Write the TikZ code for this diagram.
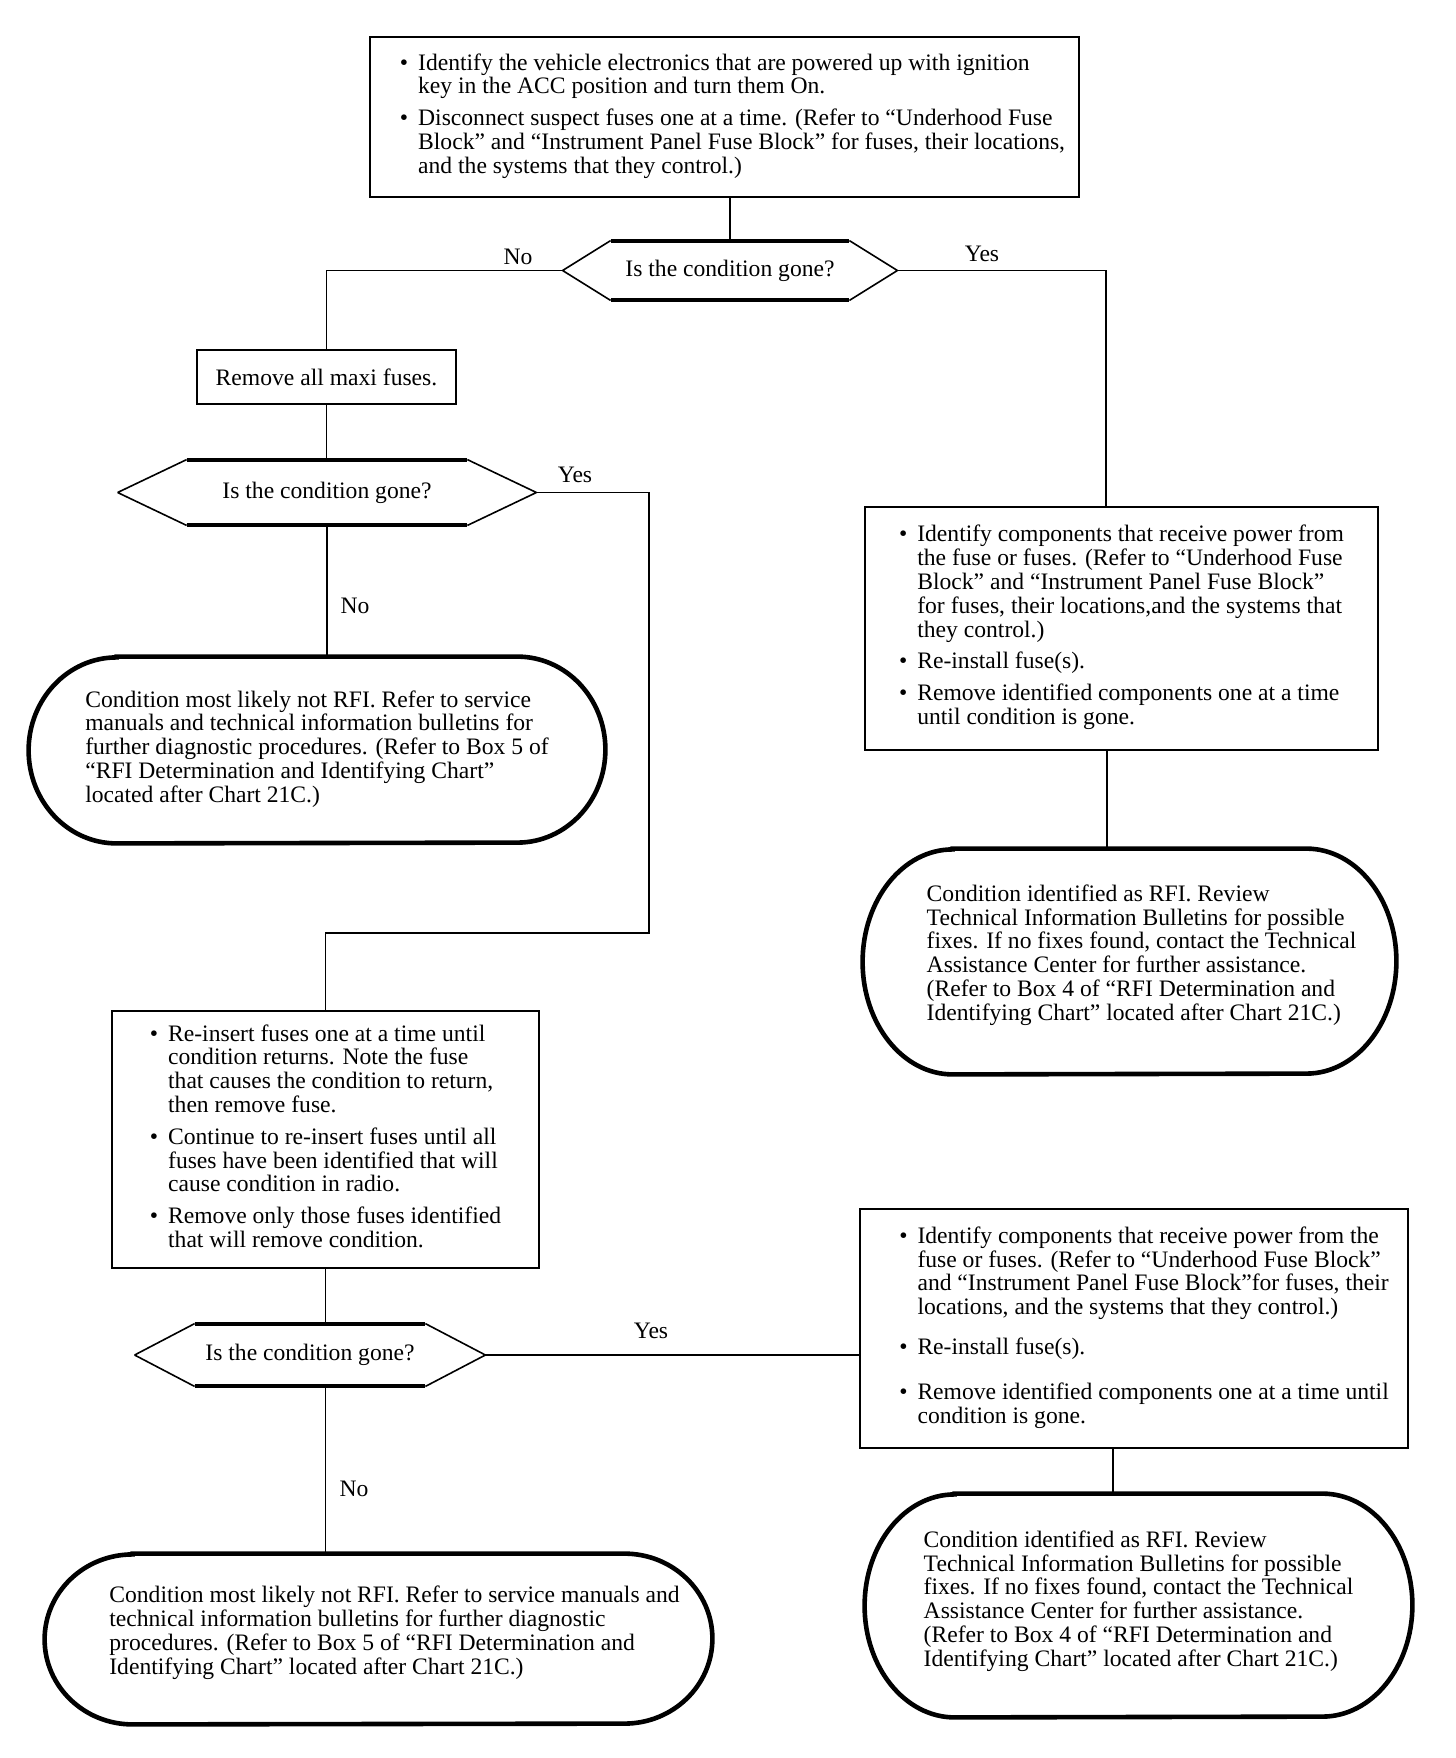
\documentclass[tikz,border=0pt]{standalone}
\usepackage{fontspec}
\setmainfont{Liberation Serif}
\newcommand\fs{\fontsize{11.8}{11.9}\selectfont}
\newcommand\hexdraw[2]{%
  \draw[hexside] (#1.west) -- ([xshift=#2]#1.north west)
                 ([xshift=-#2]#1.north east) -- (#1.east) -- ([xshift=-#2]#1.south east)
                 ([xshift=#2]#1.south west) -- (#1.west);
  \draw[hexedge] ([xshift=#2]#1.north west) -- ([xshift=-#2]#1.north east)
                 ([xshift=#2]#1.south west) -- ([xshift=-#2]#1.south east);}
\newcommand\stadium[3]{%
  \draw[ovalline] ([xshift=#2]#1.north west) -- ([xshift=-#2]#1.north east)
    arc[start angle=90, end angle=-90, x radius=#2, y radius=#3]
    -- ([xshift=#2]#1.south west)
    arc[start angle=270, end angle=90, x radius=#2, y radius=#3] -- cycle;}
\newcommand\dpt[1]{\rule[-#1]{0pt}{#1}}
\tikzset{
  boxn/.style={draw, line width=1pt, rectangle, inner sep=0pt, font=\fs},
  hexn/.style={rectangle, inner sep=0pt, font=\fs},
  ovaln/.style={rectangle, inner sep=0pt, font=\fs},
  conn/.style={line width=0.8pt},
  lbl/.style={font=\fs, inner sep=0pt},
  hexside/.style={line width=0.8pt},
  hexedge/.style={line width=2pt},
  ovalline/.style={line width=2.3pt},
}
\begin{document}
\begin{tikzpicture}[x=0.5pt,y=-0.5pt]
\useasboundingbox (0,0) rectangle (1456,1758);
% top box
\node[boxn, minimum width=354.5pt, minimum height=80pt] (top) at (724.5,117) {%
\begin{tabular}{@{\hspace{8pt}}l@{\hspace{5pt}}l@{}}
\textbullet & Identify the vehicle electronics that are powered up with ignition\\
 & key in the ACC position and turn them On.\\[4pt]
\textbullet & Disconnect suspect fuses one at a time. (Refer to “Underhood Fuse\\
 & Block” and “Instrument Panel Fuse Block” for fuses, their locations,\\
 & and the systems that they control.)
\end{tabular}};
% decision 1
\node[hexn, minimum width=167pt, minimum height=29.5pt] (d1) at (730,270.5) {Is the condition gone?};
\hexdraw{d1}{24pt}
% remove maxi
\node[boxn, minimum width=129.5pt, minimum height=27pt] (rem) at (326.5,377) {Remove all maxi fuses.};
% decision 2
\node[hexn, minimum width=209pt, minimum height=32.5pt] (d2) at (327,492.5) {Is the condition gone?};
\hexdraw{d2}{34.5pt}
% oval 1
\node[ovaln, minimum width=288pt, minimum height=93pt] (o1) at (317,750) {%
\begin{tabular}{@{}l@{}}
Condition most likely not RFI. Refer to service\\
manuals and technical information bulletins for\\
further diagnostic procedures. (Refer to Box 5 of\\
“RFI Determination and Identifying Chart”\\
located after Chart 21C.)
\end{tabular}};
\stadium{o1}{44pt}{46.5pt}
% right box 1
\node[boxn, minimum width=256.5pt, minimum height=121.5pt] (rb1) at (1121.5,628.5) {%
\begin{tabular}{@{}l@{\hspace{5pt}}l@{}}
\textbullet & Identify components that receive power from\\
 & the fuse or fuses. (Refer to “Underhood Fuse\\
 & Block” and “Instrument Panel Fuse Block”\\
 & for fuses, their locations,and the systems that\\
 & they control.)\\[4pt]
\textbullet & Re-install fuse(s).\\[4pt]
\textbullet & Remove identified components one at a time\\
 & until condition is gone.
\end{tabular}};
% oval 2
\node[ovaln, minimum width=266.5pt, minimum height=112.5pt] (o2) at (1129.5,961.5) {%
\begin{tabular}{@{\hspace{12pt}}l@{}}
Condition identified as RFI. Review\\
Technical Information Bulletins for possible\\
fixes. If no fixes found, contact the Technical\\
Assistance Center for further assistance.\\
(Refer to Box 4 of “RFI Determination and\\
Identifying Chart” located after Chart 21C.)\dpt{9pt}
\end{tabular}};
\stadium{o2}{45pt}{56.25pt}
% re-insert box
\node[boxn, minimum width=213.5pt, minimum height=128.5pt] (ri) at (325.5,1139.5) {%
\begin{tabular}{@{}l@{\hspace{5pt}}l@{}}
\textbullet & Re-insert fuses one at a time until\\
 & condition returns. Note the fuse\\
 & that causes the condition to return,\\
 & then remove fuse.\\[4pt]
\textbullet & Continue to re-insert fuses until all\\
 & fuses have been identified that will\\
 & cause condition in radio.\\[4pt]
\textbullet & Remove only those fuses identified\\
 & that will remove condition.
\end{tabular}};
% decision 3
\node[hexn, minimum width=175pt, minimum height=31pt] (d3) at (310,1355) {Is the condition gone?};
\hexdraw{d3}{30pt}
% right box 2
\node[boxn, minimum width=274pt, minimum height=119.5pt] (rb2) at (1134,1328.5) {%
\begin{tabular}{@{\hspace{10pt}}l@{\hspace{5pt}}l@{}}
\textbullet & Identify components that receive power from the\\
 & fuse or fuses. (Refer to “Underhood Fuse Block”\\
 & and “Instrument Panel Fuse Block”for fuses, their\\
 & locations, and the systems that they control.)\\[8pt]
\textbullet & Re-install fuse(s).\\[10.5pt]
\textbullet & Remove identified components one at a time until\\
 & condition is gone.
\end{tabular}};
% oval 3
\node[ovaln, minimum width=333.5pt, minimum height=85pt] (o3) at (378.5,1639) {%
\begin{tabular}{@{\hspace{16pt}}l@{}}
Condition most likely not RFI. Refer to service manuals and\\
technical information bulletins for further diagnostic\\
procedures. (Refer to Box 5 of “RFI Determination and\\
Identifying Chart” located after Chart 21C.)\dpt{9pt}
\end{tabular}};
\stadium{o3}{44pt}{42.5pt}
% oval 4
\node[ovaln, minimum width=273.5pt, minimum height=111.5pt] (o4) at (1138.5,1605.5) {%
\begin{tabular}{@{}l@{}}
Condition identified as RFI. Review\\
Technical Information Bulletins for possible\\
fixes. If no fixes found, contact the Technical\\
Assistance Center for further assistance.\\
(Refer to Box 4 of “RFI Determination and\\
Identifying Chart” located after Chart 21C.)\dpt{7pt}
\end{tabular}};
\stadium{o4}{45pt}{55.75pt}
% connectors
\coordinate (k1) at (649,933);
\draw[conn] (d1.north) -- (d1.north |- top.south);
\draw[conn] (d1.west) -| (rem.north);
\draw[conn] (d1.east) -| ([xshift=-7.75pt]rb1.north);
\draw[conn] (rem.south) -- (rem.south |- d2.north);
\draw[conn] (d2.east) -| (k1) -| (ri.north);
\draw[conn] (d2.south) -- (d2.south |- o1.north);
\draw[conn] ([xshift=-7.25pt]rb1.south) -- ([xshift=-7.25pt]rb1.south |- o2.north);
\draw[conn] (ri.south) -- (ri.south |- d3.north);
\draw[conn] (ri.south |- d3.south) -- (ri.south |- o3.north);
\draw[conn] (d3.east) -- (d3.east -| rb2.west);
\draw[conn] ([xshift=-10.5pt]rb2.south) -- ([xshift=-10.5pt]rb2.south |- o4.north);
% labels
\node[lbl] (l1) at (518,257) {No};
\node[lbl] (l2) at (982,254) {Yes};
\node[lbl] (l3) at (575,475) {Yes};
\node[lbl] (l4) at (355,606) {No};
\node[lbl] (l5) at (651,1331) {Yes};
\node[lbl] (l6) at (354,1489) {No};
\end{tikzpicture}
\end{document}
